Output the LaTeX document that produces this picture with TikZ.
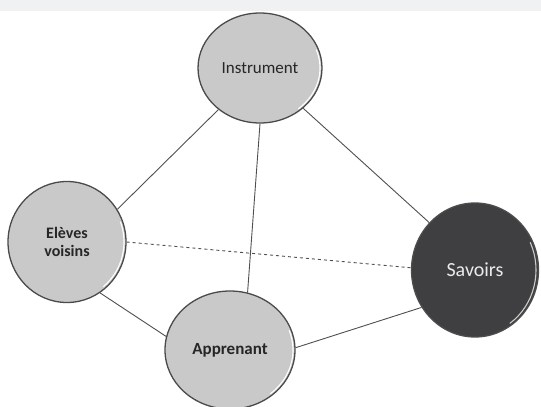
\documentclass[tikz,border=0pt]{standalone}
\usepackage{fontspec}
\setmainfont{Carlito}
\usetikzlibrary{shapes.geometric}
\definecolor{band}{HTML}{F0F1F3}
\definecolor{lightfill}{HTML}{C9C9C9}
\definecolor{darkfill}{HTML}{3F3F41}
\definecolor{rim}{HTML}{4A4A4A}
\definecolor{edgecol}{HTML}{4F4F4F}
\tikzset{
  bubble/.style={ellipse, draw=rim, line width=1.3pt, fill=lightfill, inner sep=0pt, text=black!85, align=center},
  darkbubble/.style={bubble, fill=darkfill, draw=black!70, text=white!92!black},
  link/.style={draw=edgecol, line width=0.9pt},
  hl/.style={draw=white, line width=1.1pt, line cap=round}
}
\begin{document}
\begin{tikzpicture}[x=1pt,y=-1pt]
\useasboundingbox (0,0) rectangle (541,407);
\fill[band] (0,0) rectangle (541,11);
\node[bubble, minimum width=124pt, minimum height=110pt, font=\fontsize{17}{20}\selectfont] (ins) at (260,68) {Instrument};
\node[bubble, minimum width=118pt, minimum height=121pt, font=\fontsize{16}{18}\selectfont\bfseries] (ele) at (67,242) {Elèves\\voisins};
\node[darkbubble, minimum width=127pt, minimum height=134pt, font=\fontsize{20}{24}\selectfont] (sav) at (475,270) {Savoirs};
\node[bubble, minimum width=130pt, minimum height=118pt, font=\fontsize{17}{20}\selectfont\bfseries] (app) at (230,350) {Apprenant};
% highlights
\draw[hl] (ins.center) ++(-50:60pt and 53pt) arc[start angle=-50, end angle=20, x radius=60pt, y radius=53pt];
\draw[hl] (ele.center) ++(-50:57pt and 58pt) arc[start angle=-50, end angle=20, x radius=57pt, y radius=58pt];
\draw[hl, draw=white!80!black] (sav.center) ++(-55:61pt and 65pt) arc[start angle=-55, end angle=25, x radius=61pt, y radius=65pt];
\draw[hl] (app.center) ++(-50:63pt and 57pt) arc[start angle=-50, end angle=20, x radius=63pt, y radius=57pt];
% connectors
\draw[link] (ins.225) -- (ele.33);
\draw[link] (ins.270) -- (app.73);
\draw[link] (ins.317) -- (sav.134);
\draw[link, dashed] (ele.0) -- (sav.178);
\draw[link] (ele.303) -- (app.168);
\draw[link] (app.2) -- (sav.215);
\end{tikzpicture}
\end{document}
